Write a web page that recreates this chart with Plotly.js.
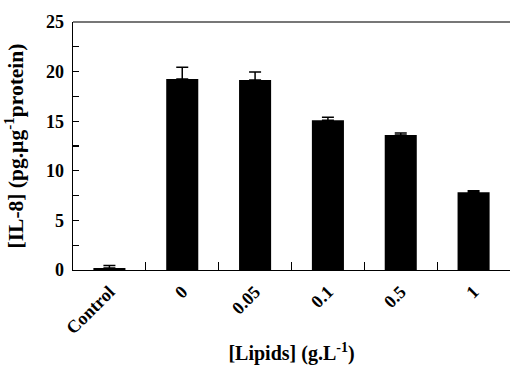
<!DOCTYPE html>
<html>
<head>
<meta charset="utf-8">
<script src="https://cdn.plot.ly/plotly-3.0.1.min.js"></script>
<style>html,body{margin:0;padding:0;background:#fff;}#chart{width:510px;height:365px;}</style>
</head>
<body>
<div id="chart"></div>
<script>
const categories = ["Control", "0", "0.05", "0.1", "0.5", "1"];
const il8Values = [0.2, 19.25, 19.15, 15.1, 13.6, 7.85];
const il8Errors = [0.25, 1.2, 0.8, 0.3, 0.2, 0.15];
const yTickValues = [0, 5, 10, 15, 20, 25];

const font = "Liberation Serif, Times New Roman, serif";

const trace = {
  type: "bar",
  x: categories,
  y: il8Values,
  width: 0.44,
  marker: {color: "#000", line: {color: "#000", width: 0}},
  error_y: {type: "data", array: il8Errors, symmetric: false, arrayminus: il8Values.map(() => 0), visible: true, color: "#000", thickness: 1.5, width: 6},
  hoverinfo: "skip"
};

const layout = {
  width: 510, height: 365,
  margin: {l: 73, r: 0, t: 22, b: 95},
  paper_bgcolor: "#fff", plot_bgcolor: "#fff",
  showlegend: false,
  font: {family: font, color: "#000"},
  xaxis: {
    type: "category",
    range: [-0.5, 5.5],
    tickson: "boundaries",
    ticks: "inside", ticklen: 8, tickwidth: 1.2, tickcolor: "#000",
    tickangle: -45,
    ticklabelstandoff: 3,
    tickfont: {family: font, size: 18, weight: "bold", color: "#000"},
    showline: true, linecolor: "#000", linewidth: 1.2,
    showgrid: false, zeroline: false,
    title: {text: "<b>[Lipids] (g.L<sup>-1</sup>)</b>", font: {family: font, size: 20, color: "#000"}, standoff: 12}
  },
  yaxis: {
    range: [0, 25],
    tickvals: yTickValues,
    ticks: "inside", ticklen: 6, tickwidth: 1.2, tickcolor: "#000",
    ticklabelstandoff: 4,
    minor: {dtick: 2.5, ticks: "inside", ticklen: 6, tickwidth: 1.2, tickcolor: "#000", showgrid: false},
    tickfont: {family: font, size: 18, weight: "bold", color: "#000"},
    showline: true, linecolor: "#000", linewidth: 1.5,
    showgrid: false, zeroline: false,
    title: {text: "<b>[IL-8] (pg.µg<sup>-1</sup>protein)</b>", font: {family: font, size: 21.5, color: "#000"}, standoff: 16}
  },
  shapes: [{type: "line", xref: "paper", yref: "paper", x0: 0, x1: 1, y0: 1, y1: 1, line: {color: "#777", width: 2}}]
};

Plotly.newPlot("chart", [trace], layout, {displayModeBar: false, staticPlot: true});
</script>
</body>
</html>
